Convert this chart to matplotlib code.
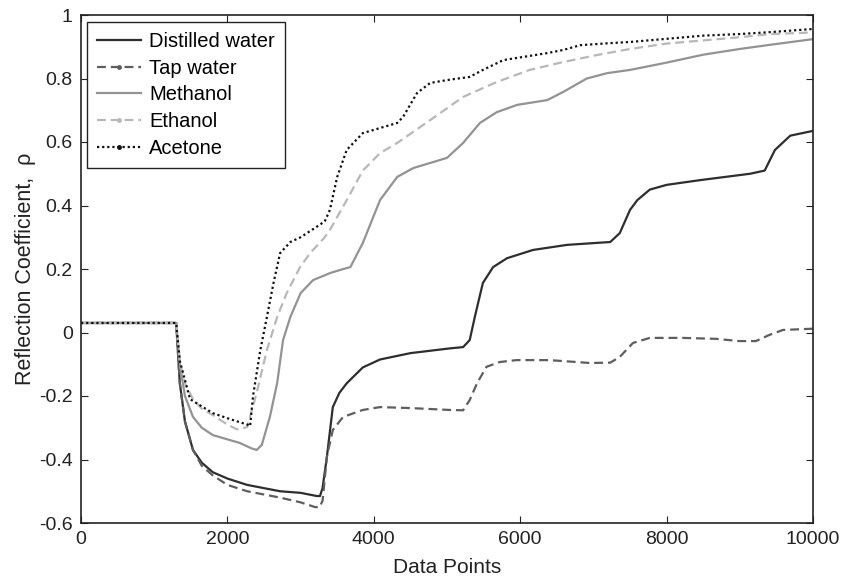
import matplotlib
matplotlib.use("Agg")
import matplotlib.pyplot as plt
from matplotlib.lines import Line2D

plt.rcParams['font.family'] = ['Liberation Sans', 'DejaVu Sans']
plt.rcParams['axes.unicode_minus'] = False

series_names = ["Distilled water", "Tap water", "Methanol", "Ethanol", "Acetone"]

distilled_x = [0, 1300, 1350, 1420, 1530, 1650, 1800, 2000, 2270, 2720, 3000, 3220, 3265, 3300, 3360, 3440,
               3530, 3630, 3850, 4085, 4500, 5040, 5220, 5310, 5380, 5490, 5630, 5820, 6175, 6640, 7230, 7360,
               7500, 7600, 7770, 8000, 8460, 9140, 9340, 9480, 9690, 10000]
distilled_y = [0.03, 0.03, -0.16, -0.28, -0.37, -0.41, -0.44, -0.46, -0.48, -0.50, -0.505, -0.515, -0.515, -0.49,
               -0.39, -0.235, -0.19, -0.16, -0.11, -0.085, -0.065, -0.05, -0.046, -0.024, 0.049, 0.156, 0.206,
               0.234, 0.26, 0.276, 0.285, 0.313, 0.386, 0.417, 0.45, 0.465, 0.48, 0.50, 0.51, 0.575, 0.62, 0.635]

tap_x = [0, 1300, 1350, 1420, 1530, 1650, 1800, 2000, 2270, 2720, 3000, 3200, 3260, 3300, 3360, 3440, 3580,
         3850, 4085, 4500, 5040, 5220, 5310, 5410, 5540, 5720, 5950, 6400, 6770, 6950, 7230, 7360, 7540, 7770,
         8220, 8680, 8990, 9220, 9400, 9590, 10000]
tap_y = [0.03, 0.03, -0.16, -0.28, -0.37, -0.42, -0.45, -0.48, -0.50, -0.52, -0.535, -0.55, -0.55, -0.53,
         -0.39, -0.307, -0.266, -0.244, -0.235, -0.238, -0.244, -0.245, -0.213, -0.16, -0.108, -0.093, -0.087,
         -0.087, -0.093, -0.096, -0.095, -0.077, -0.033, -0.017, -0.017, -0.02, -0.027, -0.027, -0.008, 0.008,
         0.012]

methanol_x = [0, 1300, 1350, 1420, 1530, 1650, 1800, 2170, 2330, 2400, 2470, 2580, 2680, 2760, 2860, 3000, 3170,
              3400, 3540, 3680, 3850, 4085, 4320, 4540, 5000, 5220, 5450, 5680, 5960, 6370, 6590, 6910, 7190,
              7500, 8000, 8500, 9000, 9410, 10000]
methanol_y = [0.03, 0.03, -0.1, -0.2, -0.266, -0.30, -0.323, -0.348, -0.365, -0.37, -0.354, -0.266, -0.159, -0.024,
              0.049, 0.124, 0.165, 0.187, 0.197, 0.206, 0.282, 0.417, 0.49, 0.518, 0.55, 0.597, 0.66, 0.694,
              0.717, 0.732, 0.758, 0.80, 0.817, 0.827, 0.85, 0.875, 0.893, 0.906, 0.924]

ethanol_x = [0, 1300, 1350, 1420, 1530, 1650, 1800, 2000, 2130, 2270, 2400, 2540, 2680, 2810, 2990, 3130,
             3330, 3400, 3630, 3850, 4085, 4320, 4770, 5220, 5680, 6130, 6590, 7050, 7500, 8000, 8500, 9000,
             9410, 10000]
ethanol_y = [0.03, 0.03, -0.09, -0.16, -0.21, -0.24, -0.26, -0.29, -0.305, -0.298, -0.19, -0.055, 0.049,
             0.124, 0.205, 0.25, 0.30, 0.323, 0.417, 0.51, 0.565, 0.597, 0.669, 0.742, 0.789, 0.827, 0.852,
             0.874, 0.893, 0.91, 0.92, 0.93, 0.94, 0.945]

acetone_x = [0, 1300, 1350, 1420, 1490, 1800, 2000, 2270, 2310, 2350, 2450, 2540, 2630, 2720, 2860, 3000,
             3200, 3330, 3400, 3500, 3630, 3850, 4100, 4320, 4400, 4590, 4770, 5000, 5310, 5490, 5770, 6370,
             6590, 6820, 7270, 7500, 8000, 8500, 9000, 9410, 10000]
acetone_y = [0.03, 0.03, -0.09, -0.15, -0.21, -0.254, -0.27, -0.29, -0.295, -0.2, -0.055, 0.049, 0.156, 0.25,
             0.285, 0.30, 0.33, 0.35, 0.386, 0.49, 0.575, 0.628, 0.645, 0.66, 0.679, 0.754, 0.786, 0.795, 0.805,
             0.827, 0.858, 0.88, 0.89, 0.905, 0.912, 0.915, 0.925, 0.935, 0.94, 0.946, 0.956]

x_ticks = [0, 2000, 4000, 6000, 8000, 10000]
x_tick_labels = ["0", "2000", "4000", "6000", "8000", "10000"]
y_ticks = [-0.6, -0.4, -0.2, 0, 0.2, 0.4, 0.6, 0.8, 1]
y_tick_labels = ["-0.6", "-0.4", "-0.2", "0", "0.2", "0.4", "0.6", "0.8", "1"]

styles = [
    dict(color="#2e2e2e", ls="-", marker=None),
    dict(color="#5e5e5e", ls=(0, (4, 2.2)), marker="."),
    dict(color="#939393", ls="-", marker=None),
    dict(color="#b8b8b8", ls=(0, (4, 2.2)), marker="."),
    dict(color="#111111", ls=(0, (1, 1.3)), marker="."),
]
data = [(distilled_x, distilled_y), (tap_x, tap_y), (methanol_x, methanol_y),
        (ethanol_x, ethanol_y), (acetone_x, acetone_y)]

fig = plt.figure(figsize=(8.45, 5.76), dpi=100)
ax = fig.add_axes([81/845, 1-523/576, 732/845, 508/576])

handles = []
for (xs, ys), st, name in zip(data, styles, series_names):
    ax.plot(xs, ys, color=st["color"], ls=st["ls"], lw=1.6)
    handles.append(Line2D([], [], color=st["color"], ls=st["ls"], lw=1.6,
                          marker=st["marker"], markersize=5, label=name))

ax.set_xlim(0, 10000)
ax.set_ylim(-0.6, 1)
ax.set_xticks(x_ticks)
ax.set_xticklabels(x_tick_labels)
ax.set_yticks(y_ticks)
ax.set_yticklabels(y_tick_labels)
ax.tick_params(direction="in", top=True, right=True, length=5, width=0.8,
               labelsize=14, colors="#222222")
ax.tick_params(axis="y", pad=6)
ax.tick_params(axis="x", pad=6)
for sp in ax.spines.values():
    sp.set_linewidth(1.2)
    sp.set_color("#222222")

ax.set_xlabel("Data Points", fontsize=15, color="#222222", labelpad=7)
ax.set_ylabel("Reflection Coefficient,  ρ", fontsize=15.5, color="#222222", labelpad=2)

leg = ax.legend(handles=handles, loc="upper left", bbox_to_anchor=(0.008, 0.986),
                fontsize=14.5, frameon=True, fancybox=False, edgecolor="#222222",
                framealpha=1, handlelength=2.2, handletextpad=0.4, borderpad=0.5,
                labelspacing=0.38, borderaxespad=0)
leg.get_frame().set_linewidth(1.0)

fig.savefig("out.png", dpi=100)
